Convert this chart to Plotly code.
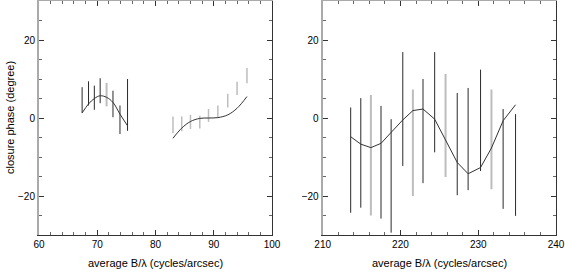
import plotly.graph_objects as go

# ---------------- data ----------------
# Left panel, first group (dark bars, one grey)
l1_x = [67.4, 68.5, 69.5, 70.5, 71.6, 72.7, 73.9, 75.2]
l1_hi = [7.9, 9.4, 8.3, 10.2, 9.0, 7.0, 3.2, 10.0]
l1_lo = [1.3, 3.2, 2.1, 3.8, 3.0, 0.2, -4.1, -3.3]
l1_grey = [False, False, False, False, True, False, False, False]
l1_model = [1.3, 3.6, 5.0, 5.7, 5.3, 4.0, 1.0, -2.0]

# Left panel, second group (light grey bars)
l2_x = [83.0, 84.5, 86.0, 87.6, 89.1, 90.7, 92.4, 94.0, 95.7]
l2_hi = [0.4, 0.4, 0.8, 0.6, 2.3, 3.2, 6.2, 9.3, 12.8]
l2_lo = [-3.9, -3.4, -2.8, -2.7, -1.0, 0.2, 2.7, 5.9, 8.9]
l2_model = [-5.2, -2.6, -0.9, -0.1, 0.0, 0.1, 0.8, 2.5, 5.5]

# Right panel
r_x = [213.6, 214.9, 216.2, 217.5, 218.8, 220.3, 221.6, 222.9,
       224.4, 225.8, 227.3, 228.7, 230.3, 231.7, 233.2, 234.8]
r_hi = [2.7, 5.1, 5.9, 3.1, -0.3, 16.9, 7.3, 10.0,
        16.9, 11.3, 6.4, 7.7, 12.4, 7.3, 2.3, 1.0]
r_lo = [-24.3, -23.0, -25.0, -25.8, -29.4, -12.3, -20.0, -16.7,
        -8.8, -15.1, -19.8, -18.5, -13.6, -18.3, -23.3, -25.1]
r_grey = [False, False, True, False, False, False, True, False,
          False, True, False, False, False, True, False, False]
r_model = [-4.8, -6.7, -7.6, -6.5, -3.7, -0.5, 1.9, 2.3,
           -0.3, -5.5, -11.4, -14.3, -12.7, -7.7, -0.7, 3.4]

y_ticks = [-20, 0, 20]
x_title = "average B/λ (cycles/arcsec)"
y_title = "closure phase (degree)"

DARK = "#2a2a2a"
GREY = "#bdbdbd"
FRAME_L = "#aaaaaa"


def bars(xs, lo, hi, mask, want):
    X, Y = [], []
    for x, a, b, m in zip(xs, lo, hi, mask):
        if m == want:
            X += [x, x, None]
            Y += [a, b, None]
    return X, Y


fig = go.Figure()

# left panel bars
for want, col, w in [(False, DARK, 1), (True, GREY, 2)]:
    X, Y = bars(l1_x, l1_lo, l1_hi, l1_grey, want)
    fig.add_trace(go.Scatter(x=X, y=Y, mode="lines", line=dict(color=col, width=w),
                             xaxis="x", yaxis="y", showlegend=False, hoverinfo="skip"))
X, Y = bars(l2_x, l2_lo, l2_hi, [True] * len(l2_x), True)
fig.add_trace(go.Scatter(x=X, y=Y, mode="lines", line=dict(color=GREY, width=1.5),
                         xaxis="x", yaxis="y", showlegend=False, hoverinfo="skip"))
fig.add_trace(go.Scatter(x=l1_x, y=l1_model, mode="lines", line=dict(color="#333333", width=1, shape="spline"),
                         xaxis="x", yaxis="y", showlegend=False))
fig.add_trace(go.Scatter(x=l2_x, y=l2_model, mode="lines", line=dict(color="#333333", width=1, shape="spline"),
                         xaxis="x", yaxis="y", showlegend=False))

# right panel bars
for want, col, w in [(False, DARK, 1), (True, GREY, 2)]:
    X, Y = bars(r_x, r_lo, r_hi, r_grey, want)
    fig.add_trace(go.Scatter(x=X, y=Y, mode="lines", line=dict(color=col, width=w),
                             xaxis="x2", yaxis="y2", showlegend=False, hoverinfo="skip"))
fig.add_trace(go.Scatter(x=r_x, y=r_model, mode="lines", line=dict(color="#333333", width=1),
                         xaxis="x2", yaxis="y2", showlegend=False))

FONT = dict(family="Liberation Sans, Arial, Helvetica, sans-serif", size=10, color="black")
dl = [0, 0.4507]
dr = [0.5487, 1.0]

common_x = dict(showgrid=False, zeroline=False, ticks="inside", ticklen=5, tickwidth=1,
                tickcolor="#333", showline=True, dtick=10, tickfont=FONT, automargin=False,
                minor=dict(ticks="inside", ticklen=3, dtick=2, tickcolor="#666"))
common_y = dict(showgrid=False, zeroline=False, ticks="inside", ticklen=5, tickwidth=1,
                tickcolor="#333", showline=True, range=[-30, 30], tickvals=y_ticks,
                tickfont=FONT, automargin=False,
                minor=dict(ticks="inside", ticklen=3, dtick=5, tick0=0, tickcolor="#666"))

fig.update_layout(
    width=565, height=276,
    margin=dict(l=39, r=9, t=1, b=41),
    paper_bgcolor="white", plot_bgcolor="white",
    font=FONT,
    xaxis=dict(domain=dl, range=[60, 100], anchor="y", linecolor="#333", linewidth=1, **common_x),
    yaxis=dict(domain=[0, 1], anchor="x", linecolor=FRAME_L, linewidth=2, **common_y),
    xaxis2=dict(domain=dr, range=[210, 240], anchor="y2", linecolor="#333", linewidth=1, **common_x),
    yaxis2=dict(domain=[0, 1], anchor="x2", linecolor=FRAME_L, linewidth=2, **common_y),
    xaxis3=dict(domain=dl, range=[60, 100], anchor="y", overlaying="x", side="top",
                showticklabels=False, linecolor=FRAME_L, linewidth=2, **common_x),
    xaxis4=dict(domain=dr, range=[210, 240], anchor="y2", overlaying="x2", side="top",
                showticklabels=False, linecolor=FRAME_L, linewidth=2, **common_x),
    yaxis3=dict(domain=[0, 1], anchor="x", overlaying="y", side="right",
                showticklabels=False, linecolor="#333", linewidth=1, **common_y),
    yaxis4=dict(domain=[0, 1], anchor="x2", overlaying="y2", side="right",
                showticklabels=False, linecolor="#333", linewidth=1, **common_y),
)

TFONT = dict(family="Liberation Sans, Arial, Helvetica, sans-serif", size=11, color="black")
fig.add_annotation(text=x_title, xref="paper", yref="paper", x=sum(dl) / 2, y=-0.118,
                   xanchor="center", yanchor="middle", showarrow=False, font=TFONT)
fig.add_annotation(text=x_title, xref="paper", yref="paper", x=sum(dr) / 2, y=-0.118,
                   xanchor="center", yanchor="middle", showarrow=False, font=TFONT)
fig.add_annotation(text=y_title, xref="paper", yref="paper", x=-0.056, y=0.5, textangle=-90,
                   xanchor="center", yanchor="middle", showarrow=False, font=TFONT)

# invisible traces to activate overlay axes
fig.add_trace(go.Scatter(x=[None], y=[None], xaxis="x3", yaxis="y3", showlegend=False))
fig.add_trace(go.Scatter(x=[None], y=[None], xaxis="x4", yaxis="y4", showlegend=False))

fig.write_html("out.html", config={"displayModeBar": False},
               post_script="document.body.style.margin='0';document.body.style.padding='0';")
